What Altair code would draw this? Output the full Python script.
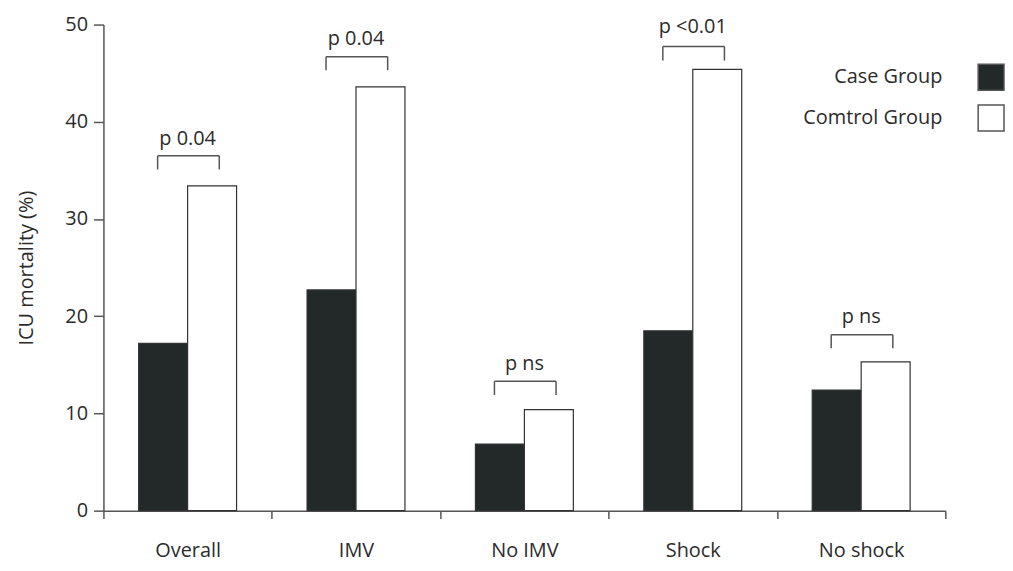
import altair as alt
import pandas as pd

categories = ["Overall", "IMV", "No IMV", "Shock", "No shock"]
groups = ["Case Group", "Comtrol Group"]
case_values = [17.2, 22.7, 6.85, 18.5, 12.4]
control_values = [33.4, 43.6, 10.4, 45.4, 15.3]
p_labels = ["p 0.04", "p 0.04", "p ns", "p <0.01", "p ns"]
bracket_top = [36.5, 46.7, 13.3, 47.75, 18.1]
bracket_bottom = [35.1, 45.3, 11.9, 46.3, 16.7]
label_y = [37.6, 47.9, 14.5, 49.1, 19.3]

FONT = "Open Sans"
TXT = "#2b2b2b"
AX = "#555555"
LEFT_POS = 0.322
RIGHT_POS = 0.688

bars_df = pd.DataFrame(
    [{"category": c, "group": groups[0], "value": v} for c, v in zip(categories, case_values)]
    + [{"category": c, "group": groups[1], "value": v} for c, v in zip(categories, control_values)]
)
br_df = pd.DataFrame(
    {"category": categories, "top": bracket_top, "bottom": bracket_bottom}
)
lab_df = pd.DataFrame({"category": categories, "y": label_y, "text": p_labels})

x_enc = alt.X(
    "category:N",
    sort=categories,
    scale=alt.Scale(domain=categories, paddingInner=0, paddingOuter=0),
    axis=alt.Axis(
        title=None,
        tickBand="extent",
        tickSize=8,
        tickColor=AX,
        tickWidth=1.5,
        domainColor=AX,
        domainWidth=1.5,
        labelFont=FONT,
        labelFontSize=20,
        labelColor=TXT,
        labelPadding=22,
        labelAngle=0,
    ),
)
y_scale = alt.Scale(domain=[0, 50], nice=False)

bars = alt.Chart(bars_df).mark_bar(stroke="#333333", strokeWidth=1.2).encode(
    x=x_enc,
    xOffset=alt.XOffset(
        "group:N",
        sort=groups,
        scale=alt.Scale(domain=groups, paddingInner=0, paddingOuter=0.72),
    ),
    y=alt.Y(
        "value:Q",
        scale=y_scale,
        axis=alt.Axis(
            title="ICU mortality (%)",
            values=[0, 10, 20, 30, 40, 50],
            grid=False,
            tickSize=10,
            tickColor=AX,
            tickWidth=1.5,
            domainColor=AX,
            domainWidth=1.5,
            labelFont=FONT,
            labelFontSize=20,
            labelColor=TXT,
            labelPadding=6,
            titleFont=FONT,
            titleFontSize=20,
            titleFontWeight="normal",
            titleColor=TXT,
            titlePadding=28,
        ),
    ),
    fill=alt.Fill(
        "group:N",
        scale=alt.Scale(domain=groups, range=["#232828", "#ffffff"]),
        legend=alt.Legend(
            title=None,
            orient="none",
            legendX=879,
            legendY=39,
            padding=0,
            symbolType="square",
            symbolSize=676,
            symbolStrokeColor=AX,
            symbolStrokeWidth=1.5,
            symbolOpacity=1,
            rowPadding=9,
            labelAlign="right",
            labelOffset={"expr": "-63"},
            labelBaseline="middle",
            labelFont=FONT,
            labelFontSize=20,
            labelColor=TXT,
            labelLimit=400,
        ),
    ),
)

rule_style = dict(color=AX, strokeWidth=1.5)

bracket_h = alt.Chart(br_df).mark_rule(**rule_style).encode(
    x=alt.X("category:N", sort=categories, bandPosition=LEFT_POS),
    x2=alt.X2("category", bandPosition=RIGHT_POS),
    y=alt.Y("top:Q", scale=y_scale),
)
bracket_l = alt.Chart(br_df).mark_rule(**rule_style).encode(
    x=alt.X("category:N", sort=categories, bandPosition=LEFT_POS),
    y=alt.Y("top:Q", scale=y_scale),
    y2="bottom:Q",
)
bracket_r = alt.Chart(br_df).mark_rule(**rule_style).encode(
    x=alt.X("category:N", sort=categories, bandPosition=RIGHT_POS),
    y=alt.Y("top:Q", scale=y_scale),
    y2="bottom:Q",
)

labels = alt.Chart(lab_df).mark_text(
    font=FONT, fontSize=20, color=TXT, align="center", baseline="alphabetic"
).encode(
    x=alt.X("category:N", sort=categories),
    y=alt.Y("y:Q", scale=y_scale),
    text="text:N",
)

chart = (
    alt.layer(bars, bracket_h, bracket_l, bracket_r, labels)
    .properties(
        width=847,
        height=489,
        autosize=alt.AutoSizeParams(type="none"),
        padding={"left": 96, "top": 15, "right": 60, "bottom": 51},
    )
    .configure_view(stroke=None)
)

chart.save("out.html", embed_options={"renderer": "svg", "actions": False})
